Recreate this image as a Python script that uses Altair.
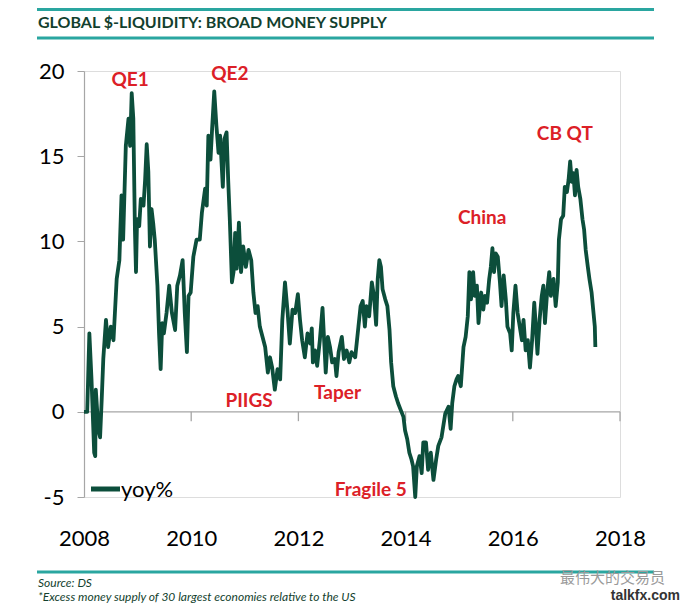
import altair as alt
import pandas as pd

# ---- data ----
years = [2008.00, 2008.06, 2008.10, 2008.14, 2008.19, 2008.21, 2008.22, 2008.27, 2008.30, 2008.33,
         2008.36, 2008.41, 2008.45, 2008.50, 2008.55, 2008.61, 2008.66, 2008.70, 2008.73, 2008.78,
         2008.83, 2008.86, 2008.89, 2008.92, 2008.95, 2008.97, 2008.99, 2009.03, 2009.06, 2009.11,
         2009.14, 2009.17, 2009.20, 2009.23, 2009.26, 2009.29, 2009.32, 2009.37, 2009.40, 2009.43,
         2009.46, 2009.49, 2009.54, 2009.59, 2009.64, 2009.70, 2009.74, 2009.79, 2009.84, 2009.88,
         2009.92, 2009.95, 2009.99, 2010.04, 2010.10, 2010.16, 2010.20, 2010.26, 2010.29, 2010.32,
         2010.36, 2010.39, 2010.43, 2010.47, 2010.51, 2010.54, 2010.57, 2010.59, 2010.62, 2010.66,
         2010.69, 2010.72, 2010.76, 2010.79, 2010.82, 2010.85, 2010.89, 2010.93, 2010.97, 2011.02,
         2011.07, 2011.12, 2011.16, 2011.20, 2011.24, 2011.28, 2011.33, 2011.38, 2011.43, 2011.47,
         2011.51, 2011.56, 2011.61, 2011.66, 2011.70, 2011.75, 2011.80, 2011.84, 2011.89, 2011.94,
         2011.99, 2012.03, 2012.07, 2012.12, 2012.17, 2012.22, 2012.25, 2012.27, 2012.31, 2012.35,
         2012.40, 2012.45, 2012.48, 2012.51, 2012.55, 2012.59, 2012.63, 2012.68, 2012.71, 2012.75,
         2012.81, 2012.85, 2012.90, 2012.95, 2012.99, 2013.06, 2013.12, 2013.16, 2013.20, 2013.24,
         2013.27, 2013.32, 2013.37, 2013.41, 2013.45, 2013.48, 2013.51, 2013.54, 2013.57, 2013.62,
         2013.66, 2013.70, 2013.73, 2013.77, 2013.82, 2013.86, 2013.91, 2013.96, 2013.99, 2014.03,
         2014.07, 2014.11, 2014.14, 2014.18, 2014.21, 2014.26, 2014.30, 2014.33, 2014.38, 2014.42,
         2014.47, 2014.52, 2014.57, 2014.61, 2014.67, 2014.74, 2014.80, 2014.84, 2014.87, 2014.91,
         2014.95, 2014.98, 2015.03, 2015.08, 2015.12, 2015.16, 2015.19, 2015.22, 2015.26, 2015.29,
         2015.33, 2015.36, 2015.41, 2015.45, 2015.48, 2015.52, 2015.56, 2015.59, 2015.62, 2015.65,
         2015.68, 2015.72, 2015.76, 2015.79, 2015.83, 2015.87, 2015.90, 2015.95, 2015.98, 2016.01,
         2016.05, 2016.09, 2016.13, 2016.17, 2016.20, 2016.24, 2016.28, 2016.32, 2016.36, 2016.40,
         2016.43, 2016.46, 2016.50, 2016.54, 2016.57, 2016.60, 2016.64, 2016.68, 2016.71, 2016.76,
         2016.80, 2016.84, 2016.86, 2016.90, 2016.94, 2016.97, 2017.01, 2017.04, 2017.07, 2017.10,
         2017.13, 2017.16, 2017.19, 2017.22, 2017.26, 2017.30, 2017.33, 2017.36, 2017.40, 2017.43,
         2017.47, 2017.50, 2017.53, 2017.54]

yoy = [0.0, 0.0, 4.6, 1.9, -2.4, -2.6, 1.3, -1.1, -1.5, 0.7,
       3.1, 5.4, 3.8, 5.0, 4.2, 7.8, 8.9, 12.7, 10.1, 15.6,
       17.2, 15.6, 18.7, 17.2, 10.7, 8.2, 11.3, 10.9, 12.5, 12.1,
       13.6, 15.7, 14.1, 9.7, 11.9, 11.1, 10.1, 7.4, 4.6, 2.5,
       5.2, 4.6, 5.8, 7.4, 5.8, 4.8, 7.4, 8.0, 8.9, 5.8,
       3.5, 6.8, 7.0, 9.1, 10.1, 10.1, 11.7, 13.1, 12.1, 16.2,
       14.8, 16.6, 18.8, 16.8, 15.2, 16.2, 14.4, 13.2, 16.0, 16.4,
       13.6, 11.3, 7.6, 8.2, 10.5, 8.4, 11.1, 8.2, 9.7, 8.5,
       9.5, 8.9, 7.0, 5.8, 6.2, 5.0, 4.4, 3.8, 2.3, 3.2,
       2.6, 1.3, 2.5, 1.9, 5.4, 7.6, 5.8, 4.0, 6.0, 5.8,
       6.9, 5.4, 4.2, 3.2, 4.6, 4.0, 4.9, 2.9, 3.6, 2.7,
       4.2, 6.1, 4.2, 2.3, 4.4, 3.8, 2.9, 3.1, 2.1, 3.5,
       4.4, 3.1, 3.6, 2.9, 3.5, 3.2, 5.0, 6.2, 6.5, 5.0,
       6.2, 5.6, 7.6, 6.8, 5.1, 7.8, 8.9, 8.5, 7.2, 6.6,
       6.2, 4.8, 2.9, 1.5, 0.9, 0.5, 0.1, -0.3, -1.1, -1.6,
       -2.4, -2.8, -3.2, -5.0, -3.2, -2.6, -3.6, -1.8, -1.8, -3.4,
       -2.4, -4.0, -2.8, -2.0, -1.5, -0.1, 0.3, -1.0, 0.5, 1.5,
       1.9, 2.1, 1.5, 3.8, 4.4, 5.6, 8.2, 6.6, 8.2, 6.8,
       7.4, 5.2, 7.0, 6.0, 6.8, 6.4, 7.8, 8.5, 9.6, 8.2,
       9.3, 9.1, 7.6, 6.2, 8.0, 6.6, 5.0, 4.6, 3.6, 5.8,
       7.4, 5.8, 5.0, 4.2, 5.4, 3.6, 4.2, 2.6, 4.2, 6.4,
       5.0, 3.4, 5.4, 6.8, 7.4, 5.2, 7.0, 8.2, 6.8, 7.8,
       6.2, 7.6, 10.1, 11.3, 11.5, 13.2, 12.9, 13.6, 14.7, 13.5,
       14.0, 12.7, 14.2, 13.2, 12.5, 11.3, 10.7, 9.5, 8.5, 7.8,
       7.0, 6.0, 5.0, 3.8]

ann_text = ["QE1", "QE2", "PIIGS", "Taper", "Fragile 5", "China", "CB QT"]
ann_year = [2008.86, 2010.72, 2011.08, 2012.73, 2013.35, 2015.43, 2016.97]
ann_value = [19.5, 19.8, 0.65, 1.1, -4.6, 11.4, 16.3]

x_ticks = [2008, 2010, 2012, 2014, 2016, 2018]
y_ticks = [-5, 0, 5, 10, 15, 20]
zero_ticks = [2010, 2012, 2014, 2016, 2018]

title_text = "GLOBAL $-LIQUIDITY: BROAD MONEY SUPPLY"
source_text = "Source: DS"
note_text = "*Excess money supply of 30 largest economies relative to the US"
legend_label = "yoy%"

# ---- styling ----
FONT = "Lato, Open Sans, sans-serif"
GREEN = "#0c4e3b"
RED = "#dc2027"
TEAL = "#2aa6a0"
DARK = "#133f2e"
W, H = 536, 426

df = pd.DataFrame({"year": years, "yoy": yoy})
ann = pd.DataFrame({"label": ann_text, "year": ann_year, "value": ann_value})
ticks_df = pd.DataFrame({"year": zero_ticks})

xs = alt.Scale(domain=[2008, 2018], nice=False, zero=False)
ys = alt.Scale(domain=[-5, 20], nice=False)

x_axis = alt.Axis(values=x_ticks, format="d", domain=False, ticks=False, grid=False,
                  labelPadding=31, labelFontSize=22, labelFont=FONT, labelColor="#000000",
                  title=None, labelFlush=False)
y_axis = alt.Axis(values=y_ticks, labelExpr="toString(datum.value)",
                  domainColor="#a6a6a6", tickColor="#a6a6a6", tickSize=7,
                  grid=False, labelPadding=13, labelFontSize=22, labelFont=FONT,
                  labelColor="#000000", title=None, domainWidth=1.2)

zero_line = alt.Chart(pd.DataFrame({"a": [0]})).mark_rule(color="#a6a6a6", strokeWidth=1.3).encode(
    x=alt.datum(2008, scale=xs, axis=x_axis, type="quantitative"),
    x2=alt.datum(2018),
    y=alt.datum(0, scale=ys, axis=y_axis, type="quantitative"),
)

zero_tick_marks = alt.Chart(ticks_df).mark_rule(color="#a6a6a6", strokeWidth=1.3).encode(
    x=alt.X("year:Q", scale=xs, axis=x_axis),
    y=alt.datum(0, scale=ys, type="quantitative"),
    y2=alt.datum(-0.55),
)

line = alt.Chart(df).mark_line(color=GREEN, strokeWidth=3.8, strokeJoin="round").encode(
    x=alt.X("year:Q", scale=xs, axis=x_axis),
    y=alt.Y("yoy:Q", scale=ys, axis=y_axis),
)

labels = alt.Chart(ann).mark_text(color=RED, font=FONT, fontSize=19, fontWeight="bold",
                                  align="center", baseline="middle").encode(
    x=alt.X("year:Q", scale=xs),
    y=alt.Y("value:Q", scale=ys),
    text="label:N",
)

one = pd.DataFrame({"a": [0]})

def hline(y, x1=-47, x2=570, color=TEAL, w=3):
    return alt.Chart(one).mark_rule(color=color, strokeWidth=w).encode(
        x=alt.value(x1), x2=alt.value(x2), y=alt.value(y))

def text(t, x, y, size, color, weight="normal", style="normal", font=FONT, align="left"):
    return alt.Chart(pd.DataFrame({"t": [t]})).mark_text(
        font=font, fontSize=size, fontWeight=weight, fontStyle=style, color=color,
        align=align, baseline="middle").encode(x=alt.value(x), y=alt.value(y), text="t:N")

legend_line = hline(418, 7, 36, color=GREEN, w=5)
legend_text = text(legend_label, 37, 419, 22, "#000000")

deco = [
    hline(-61.5), hline(-33),
    text(title_text, -46, -48.5, 16, DARK, weight="bold"),
    hline(501, w=3),
    text(source_text, -46, 511.5, 12, DARK, style="italic"),
    text(note_text, -46, 525.5, 12, DARK, style="italic"),
    text("最伟大的交易员", 581, 506.5, 15, "#9a9a9a", font="Noto Sans CJK SC", align="right"),
    text("talkfx.com", 596, 525, 14, "#333333", weight="bold",
         font="Liberation Sans, Arial, sans-serif", align="right"),
    legend_line, legend_text,
]

chart = alt.layer(zero_line, zero_tick_marks, line, labels, *deco).properties(
    width=W, height=H,
    padding={"left": 76, "top": 63, "right": 62, "bottom": 107},
    autosize="none",
).configure_view(strokeWidth=0).configure(background="white")

chart.save("out.html", embed_options={"renderer": "svg", "actions": False})
